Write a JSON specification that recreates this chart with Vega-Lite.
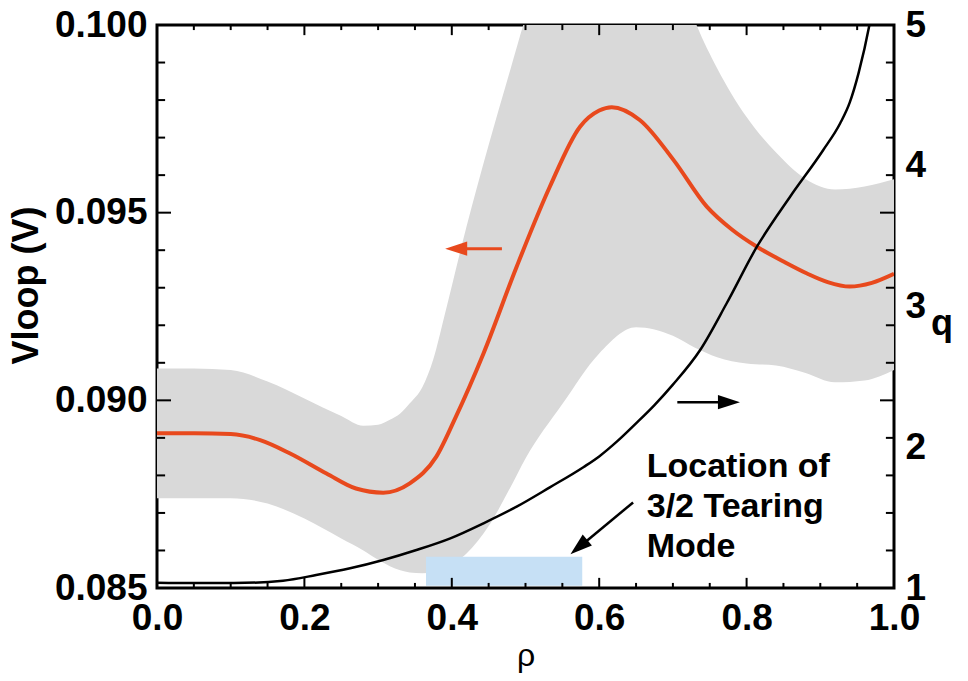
{
  "$schema": "https://vega.github.io/schema/vega-lite/v6.json",
  "width": 737,
  "height": 563,
  "autosize": "none",
  "padding": {"left": 157, "top": 25, "right": 74, "bottom": 93},
  "background": "white",
  "config": {
    "view": {"stroke": "black", "strokeWidth": 3},
    "axis": {
      "domain": false,
      "grid": false,
      "ticks": false,
      "labelFont": "Liberation Sans Narrow, Liberation Sans",
      "labelFontWeight": "bold",
      "labelColor": "black",
      "labelFlush": false,
      "labelOverlap": false,
      "labelBound": false,
      "titleColor": "black",
      "titleFont": "Liberation Sans"
    }
  },
  "datasets": {
    "band": [
      {"rho": 0.0, "lo": 0.08739, "hi": 0.09085},
      {"rho": 0.05, "lo": 0.08739, "hi": 0.09085},
      {"rho": 0.10, "lo": 0.08739, "hi": 0.09081},
      {"rho": 0.15, "lo": 0.08725, "hi": 0.0905},
      {"rho": 0.20, "lo": 0.08685, "hi": 0.09005},
      {"rho": 0.25, "lo": 0.08632, "hi": 0.08958},
      {"rho": 0.28, "lo": 0.086, "hi": 0.08932},
      {"rho": 0.30, "lo": 0.08575, "hi": 0.08935},
      {"rho": 0.316, "lo": 0.08558, "hi": 0.08948},
      {"rho": 0.33, "lo": 0.08547, "hi": 0.08965},
      {"rho": 0.343, "lo": 0.08541, "hi": 0.08992},
      {"rho": 0.36, "lo": 0.08539, "hi": 0.09035},
      {"rho": 0.375, "lo": 0.08542, "hi": 0.0911},
      {"rho": 0.39, "lo": 0.08555, "hi": 0.09225},
      {"rho": 0.42, "lo": 0.08592, "hi": 0.09463},
      {"rho": 0.45, "lo": 0.08665, "hi": 0.0968},
      {"rho": 0.48, "lo": 0.0877, "hi": 0.09885},
      {"rho": 0.50, "lo": 0.08845, "hi": 0.1002},
      {"rho": 0.55, "lo": 0.0899, "hi": 0.103},
      {"rho": 0.60, "lo": 0.09125, "hi": 0.1045},
      {"rho": 0.65, "lo": 0.09195, "hi": 0.104},
      {"rho": 0.70, "lo": 0.09172, "hi": 0.1018},
      {"rho": 0.73, "lo": 0.0914, "hi": 0.1001},
      {"rho": 0.76, "lo": 0.09115, "hi": 0.09885},
      {"rho": 0.80, "lo": 0.09098, "hi": 0.09755},
      {"rho": 0.84, "lo": 0.09093, "hi": 0.0966},
      {"rho": 0.88, "lo": 0.09073, "hi": 0.0959},
      {"rho": 0.92, "lo": 0.09048, "hi": 0.09562},
      {"rho": 0.96, "lo": 0.09053, "hi": 0.0957},
      {"rho": 1.0, "lo": 0.09081, "hi": 0.09589}
    ],
    "vloop": [
      {"rho": 0.0, "V": 0.08912},
      {"rho": 0.05, "V": 0.08912},
      {"rho": 0.10, "V": 0.0891},
      {"rho": 0.14, "V": 0.08894},
      {"rho": 0.18, "V": 0.08859},
      {"rho": 0.23, "V": 0.08805},
      {"rho": 0.27, "V": 0.08765},
      {"rho": 0.307, "V": 0.08754},
      {"rho": 0.343, "V": 0.08779},
      {"rho": 0.379, "V": 0.0885},
      {"rho": 0.405, "V": 0.08954},
      {"rho": 0.443, "V": 0.09125},
      {"rho": 0.488, "V": 0.09356},
      {"rho": 0.533, "V": 0.09569},
      {"rho": 0.574, "V": 0.09729},
      {"rho": 0.60, "V": 0.09772},
      {"rho": 0.617, "V": 0.09781},
      {"rho": 0.655, "V": 0.09747},
      {"rho": 0.701, "V": 0.0964},
      {"rho": 0.746, "V": 0.09516},
      {"rho": 0.78, "V": 0.09455},
      {"rho": 0.814, "V": 0.09409},
      {"rho": 0.85, "V": 0.0937},
      {"rho": 0.882, "V": 0.09338},
      {"rho": 0.91, "V": 0.09315},
      {"rho": 0.94, "V": 0.09303},
      {"rho": 0.97, "V": 0.09313},
      {"rho": 1.0, "V": 0.09337}
    ],
    "qprof": [
      {"rho": 0.0, "q": 1.038},
      {"rho": 0.05, "q": 1.035},
      {"rho": 0.104, "q": 1.035},
      {"rho": 0.171, "q": 1.052},
      {"rho": 0.216, "q": 1.092},
      {"rho": 0.262, "q": 1.14},
      {"rho": 0.307, "q": 1.199},
      {"rho": 0.352, "q": 1.27},
      {"rho": 0.398, "q": 1.353},
      {"rho": 0.443, "q": 1.46},
      {"rho": 0.488, "q": 1.578},
      {"rho": 0.533, "q": 1.715},
      {"rho": 0.579, "q": 1.86},
      {"rho": 0.60, "q": 1.935},
      {"rho": 0.625, "q": 2.045},
      {"rho": 0.65, "q": 2.17},
      {"rho": 0.675, "q": 2.3},
      {"rho": 0.70, "q": 2.445},
      {"rho": 0.737, "q": 2.691},
      {"rho": 0.773, "q": 3.023},
      {"rho": 0.814, "q": 3.425},
      {"rho": 0.859, "q": 3.78},
      {"rho": 0.904, "q": 4.112},
      {"rho": 0.927, "q": 4.302},
      {"rho": 0.94, "q": 4.45},
      {"rho": 0.952, "q": 4.66},
      {"rho": 0.967, "q": 5.01},
      {"rho": 0.975, "q": 5.25}
    ],
    "xMajor": [{"t": 0}, {"t": 0.2}, {"t": 0.4}, {"t": 0.6}, {"t": 0.8}, {"t": 1}],
    "xMinor": [{"t": 0.05}, {"t": 0.1}, {"t": 0.15}, {"t": 0.25}, {"t": 0.3}, {"t": 0.35}, {"t": 0.45}, {"t": 0.5}, {"t": 0.55}, {"t": 0.65}, {"t": 0.7}, {"t": 0.75}, {"t": 0.85}, {"t": 0.9}, {"t": 0.95}],
    "yMajor": [{"t": 0.085}, {"t": 0.09}, {"t": 0.095}, {"t": 0.1}],
    "yMinor": [{"t": 0.086}, {"t": 0.087}, {"t": 0.088}, {"t": 0.089}, {"t": 0.091}, {"t": 0.092}, {"t": 0.093}, {"t": 0.094}, {"t": 0.096}, {"t": 0.097}, {"t": 0.098}, {"t": 0.099}],
    "zone": [
      {"rho0": 0.365, "rho1": 0.577, "v0": 0.08506, "v1": 0.08583}
    ],
    "orangeArrow": [
      {"tail": 0.468, "end": 0.40, "tip": 0.391, "V": 0.09404}
    ],
    "rightArrow": [
      {"tail": 0.706, "end": 0.78, "tip": 0.791, "V": 0.08995}
    ],
    "diagArrow": [
      {"tailRho": 0.646, "tailV": 0.08728, "endRho": 0.5735, "endV": 0.0861, "tipRho": 0.561, "tipV": 0.0859}
    ],
    "note": [
      {"rho": 0.6645, "V": 0.08796, "label": "Location of\n3/2 Tearing\nMode"}
    ]
  },
  "resolve": {
    "scale": {"y": "independent"},
    "axis": {"x": "independent", "y": "independent"}
  },
  "layer": [
    {
      "data": {"name": "band"},
      "mark": {"type": "area", "color": "#d9d9d9", "clip": true, "interpolate": "monotone"},
      "encoding": {
        "x": {"field": "rho", "type": "quantitative", "scale": {"domain": [0, 1]},
          "axis": {"orient": "bottom", "values": [0, 0.2, 0.4, 0.6, 0.8, 1], "format": ".1f",
            "labelPadding": 12, "labelFontSize": 37,
            "title": "ρ", "titleFontSize": 32, "titleFontWeight": "normal", "titlePadding": 4}},
        "y": {"field": "lo", "type": "quantitative", "scale": {"domain": [0.085, 0.1]},
          "axis": {"orient": "left", "values": [0.085, 0.09, 0.095, 0.1], "format": ".3f",
            "labelPadding": 10, "labelFontSize": 37,
            "title": "Vloop (V)", "titleFontSize": 36, "titleFontWeight": "bold", "titlePadding": 9, "titleY": 260}},
        "y2": {"field": "hi"}
      }
    },
    {
      "data": {"name": "zone"},
      "mark": {"type": "rect", "color": "#c6e0f5"},
      "encoding": {
        "x": {"field": "rho0", "type": "quantitative", "scale": {"domain": [0, 1]}, "axis": null},
        "x2": {"field": "rho1"},
        "y": {"field": "v0", "type": "quantitative", "scale": {"domain": [0.085, 0.1]}, "axis": null},
        "y2": {"field": "v1"}
      }
    },
    {
      "data": {"name": "vloop"},
      "mark": {"type": "line", "color": "#e8491d", "strokeWidth": 4, "interpolate": "monotone", "clip": true},
      "encoding": {
        "x": {"field": "rho", "type": "quantitative", "axis": null},
        "y": {"field": "V", "type": "quantitative", "scale": {"domain": [0.085, 0.1]}, "axis": null}
      }
    },
    {
      "data": {"name": "qprof"},
      "mark": {"type": "line", "color": "black", "strokeWidth": 2.5, "interpolate": "monotone", "clip": true},
      "encoding": {
        "x": {"field": "rho", "type": "quantitative", "axis": null},
        "y": {"field": "q", "type": "quantitative", "scale": {"domain": [1, 5]},
          "axis": {"orient": "right", "values": [1, 2, 3, 4, 5], "format": "d",
            "labelPadding": 11, "labelFontSize": 37,
            "title": "q", "titleAngle": 0, "titleAlign": "left", "titleBaseline": "top",
            "titleFontSize": 36, "titleFontWeight": "bold", "titlePadding": 5}}
      }
    },
    {
      "data": {"name": "xMajor"},
      "mark": {"type": "rule", "color": "black", "strokeWidth": 2},
      "encoding": {
        "x": {"field": "t", "type": "quantitative", "axis": null},
        "y": {"datum": 0.085, "type": "quantitative", "scale": {"domain": [0.085, 0.1]}, "axis": null},
        "y2": {"datum": 0.08527}
      }
    },
    {
      "data": {"name": "xMajor"},
      "mark": {"type": "rule", "color": "black", "strokeWidth": 2},
      "encoding": {
        "x": {"field": "t", "type": "quantitative", "axis": null},
        "y": {"datum": 0.1, "type": "quantitative", "scale": {"domain": [0.085, 0.1]}, "axis": null},
        "y2": {"datum": 0.09973}
      }
    },
    {
      "data": {"name": "xMinor"},
      "mark": {"type": "rule", "color": "black", "strokeWidth": 2},
      "encoding": {
        "x": {"field": "t", "type": "quantitative", "axis": null},
        "y": {"datum": 0.085, "type": "quantitative", "scale": {"domain": [0.085, 0.1]}, "axis": null},
        "y2": {"datum": 0.085135}
      }
    },
    {
      "data": {"name": "xMinor"},
      "mark": {"type": "rule", "color": "black", "strokeWidth": 2},
      "encoding": {
        "x": {"field": "t", "type": "quantitative", "axis": null},
        "y": {"datum": 0.1, "type": "quantitative", "scale": {"domain": [0.085, 0.1]}, "axis": null},
        "y2": {"datum": 0.099865}
      }
    },
    {
      "data": {"name": "yMajor"},
      "mark": {"type": "rule", "color": "black", "strokeWidth": 2},
      "encoding": {
        "x": {"datum": 0, "type": "quantitative", "axis": null},
        "x2": {"datum": 0.019},
        "y": {"field": "t", "type": "quantitative", "scale": {"domain": [0.085, 0.1]}, "axis": null}
      }
    },
    {
      "data": {"name": "yMajor"},
      "mark": {"type": "rule", "color": "black", "strokeWidth": 2},
      "encoding": {
        "x": {"datum": 1, "type": "quantitative", "axis": null},
        "x2": {"datum": 0.981},
        "y": {"field": "t", "type": "quantitative", "scale": {"domain": [0.085, 0.1]}, "axis": null}
      }
    },
    {
      "data": {"name": "yMinor"},
      "mark": {"type": "rule", "color": "black", "strokeWidth": 2},
      "encoding": {
        "x": {"datum": 0, "type": "quantitative", "axis": null},
        "x2": {"datum": 0.011},
        "y": {"field": "t", "type": "quantitative", "scale": {"domain": [0.085, 0.1]}, "axis": null}
      }
    },
    {
      "data": {"name": "yMinor"},
      "mark": {"type": "rule", "color": "black", "strokeWidth": 2},
      "encoding": {
        "x": {"datum": 1, "type": "quantitative", "axis": null},
        "x2": {"datum": 0.989},
        "y": {"field": "t", "type": "quantitative", "scale": {"domain": [0.085, 0.1]}, "axis": null}
      }
    },
    {
      "data": {"name": "orangeArrow"},
      "mark": {"type": "rule", "color": "#e8491d", "strokeWidth": 3},
      "encoding": {
        "x": {"field": "tail", "type": "quantitative", "axis": null},
        "x2": {"field": "end"},
        "y": {"field": "V", "type": "quantitative", "scale": {"domain": [0.085, 0.1]}, "axis": null}
      }
    },
    {
      "data": {"name": "orangeArrow"},
      "mark": {"type": "point", "shape": "M0,0L-2,-0.65L-2,0.65Z", "filled": true, "opacity": 1, "color": "#e8491d", "size": 484, "angle": 180, "strokeWidth": 0},
      "encoding": {
        "x": {"field": "tip", "type": "quantitative", "axis": null},
        "y": {"field": "V", "type": "quantitative", "scale": {"domain": [0.085, 0.1]}, "axis": null}
      }
    },
    {
      "data": {"name": "rightArrow"},
      "mark": {"type": "rule", "color": "black", "strokeWidth": 2.5},
      "encoding": {
        "x": {"field": "tail", "type": "quantitative", "axis": null},
        "x2": {"field": "end"},
        "y": {"field": "V", "type": "quantitative", "scale": {"domain": [0.085, 0.1]}, "axis": null}
      }
    },
    {
      "data": {"name": "rightArrow"},
      "mark": {"type": "point", "shape": "M0,0L-2,-0.65L-2,0.65Z", "filled": true, "opacity": 1, "color": "black", "size": 484, "angle": 0, "strokeWidth": 0},
      "encoding": {
        "x": {"field": "tip", "type": "quantitative", "axis": null},
        "y": {"field": "V", "type": "quantitative", "scale": {"domain": [0.085, 0.1]}, "axis": null}
      }
    },
    {
      "data": {"name": "diagArrow"},
      "mark": {"type": "rule", "color": "black", "strokeWidth": 2.5},
      "encoding": {
        "x": {"field": "tailRho", "type": "quantitative", "axis": null},
        "x2": {"field": "endRho"},
        "y": {"field": "tailV", "type": "quantitative", "scale": {"domain": [0.085, 0.1]}, "axis": null},
        "y2": {"field": "endV"}
      }
    },
    {
      "data": {"name": "diagArrow"},
      "mark": {"type": "point", "shape": "M0,0L-2,-0.65L-2,0.65Z", "filled": true, "opacity": 1, "color": "black", "size": 484, "angle": 140, "strokeWidth": 0},
      "encoding": {
        "x": {"field": "tipRho", "type": "quantitative", "axis": null},
        "y": {"field": "tipV", "type": "quantitative", "scale": {"domain": [0.085, 0.1]}, "axis": null}
      }
    },
    {
      "data": {"name": "note"},
      "mark": {"type": "text", "align": "left", "baseline": "alphabetic", "lineBreak": "\n", "lineHeight": 40,
        "font": "Liberation Sans Narrow, Liberation Sans", "fontWeight": "bold", "fontSize": 34, "color": "black"},
      "encoding": {
        "x": {"field": "rho", "type": "quantitative", "axis": null},
        "y": {"field": "V", "type": "quantitative", "scale": {"domain": [0.085, 0.1]}, "axis": null},
        "text": {"field": "label"}
      }
    }
  ]
}
